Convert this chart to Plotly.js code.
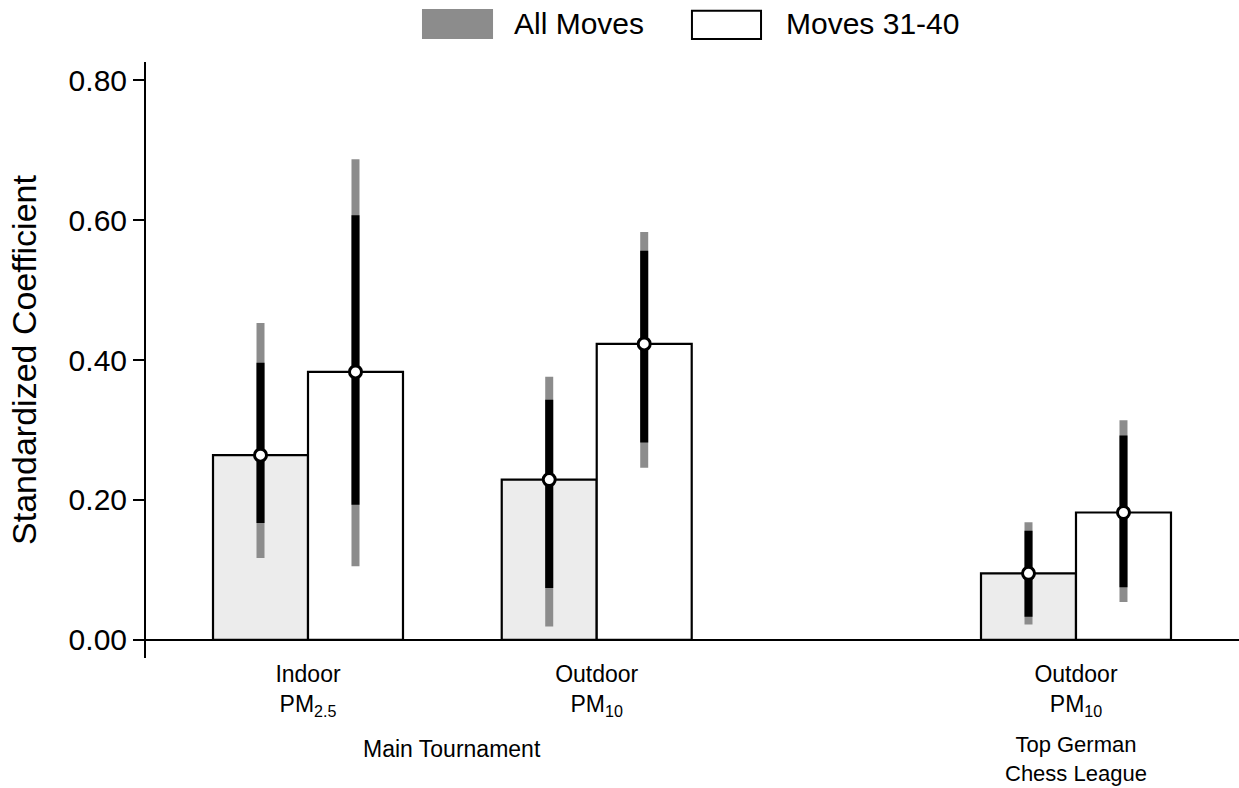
<!DOCTYPE html>
<html>
<head>
<meta charset="utf-8">
<script src="https://cdn.plot.ly/plotly-3.0.1.min.js"></script>
<style>
  html, body { margin: 0; padding: 0; background: #ffffff; }
  #chart { width: 1239px; height: 788px; }
</style>
</head>
<body>
<div id="chart"></div>
<script>
// ---- data ----
const groupPositions = [1, 2, 3.66];
const tickLabels = ["Indoor<br>PM<sub>2.5</sub>", "Outdoor<br>PM<sub>10</sub>", "Outdoor<br>PM<sub>10</sub>"];
const groupLabels = ["Main Tournament", "Top German<br>Chess League"];
const groupLabelPositions = [1.5, 3.66];
const seriesNames = ["All Moves", "Moves 31-40"];

const allEst   = [0.264, 0.229, 0.095];
const allLo95  = [0.117, 0.019, 0.022];
const allHi95  = [0.453, 0.376, 0.168];
const allLo90  = [0.167, 0.074, 0.033];
const allHi90  = [0.396, 0.343, 0.156];

const lateEst  = [0.383, 0.423, 0.182];
const lateLo95 = [0.105, 0.246, 0.054];
const lateHi95 = [0.687, 0.583, 0.314];
const lateLo90 = [0.193, 0.282, 0.075];
const lateHi90 = [0.607, 0.556, 0.292];

const yTickVals = [0, 0.2, 0.4, 0.6, 0.8];

// ---- style ----
const FONT = "Liberation Sans, Arial, Helvetica, sans-serif";
const BARGAP = 0.342;
const HALF = (1 - BARGAP) / 4;
const GRAY = "#8c8c8c";

const up = (hi, est) => hi.map((v, i) => v - est[i]);
const dn = (lo, est) => lo.map((v, i) => est[i] - v);
const shift = (d) => groupPositions.map(p => p + d);

const traces = [
  {
    type: "bar", name: seriesNames[0], x: groupPositions, y: allEst,
    marker: { color: "#ececec", line: { color: "#000", width: 2.2 } },
    error_y: { type: "data", symmetric: false, array: up(allHi95, allEst), arrayminus: dn(allLo95, allEst),
               color: GRAY, thickness: 8, width: 0 },
    showlegend: false, hoverinfo: "skip"
  },
  {
    type: "bar", name: seriesNames[1], x: groupPositions, y: lateEst,
    marker: { color: "#ffffff", line: { color: "#000", width: 2.2 } },
    error_y: { type: "data", symmetric: false, array: up(lateHi95, lateEst), arrayminus: dn(lateLo95, lateEst),
               color: GRAY, thickness: 8, width: 0 },
    showlegend: false, hoverinfo: "skip"
  },
  {
    type: "scatter", mode: "markers", name: seriesNames[0] + " 90%", x: shift(-HALF), y: allEst,
    marker: { size: 1, color: "rgba(0,0,0,0)" },
    error_y: { type: "data", symmetric: false, array: up(allHi90, allEst), arrayminus: dn(allLo90, allEst),
               color: "#000", thickness: 8, width: 0 },
    showlegend: false, hoverinfo: "skip"
  },
  {
    type: "scatter", mode: "markers", name: seriesNames[1] + " 90%", x: shift(HALF), y: lateEst,
    marker: { size: 1, color: "rgba(0,0,0,0)" },
    error_y: { type: "data", symmetric: false, array: up(lateHi90, lateEst), arrayminus: dn(lateLo90, lateEst),
               color: "#000", thickness: 8, width: 0 },
    showlegend: false, hoverinfo: "skip"
  },
  {
    type: "scatter", mode: "markers", name: seriesNames[0] + " estimate", x: shift(-HALF), y: allEst,
    marker: { size: 12, color: "#ffffff", line: { color: "#000", width: 3 } },
    showlegend: false
  },
  {
    type: "scatter", mode: "markers", name: seriesNames[1] + " estimate", x: shift(HALF), y: lateEst,
    marker: { size: 12, color: "#ffffff", line: { color: "#000", width: 3 } },
    showlegend: false
  }
];

const annotations = [
  { text: groupLabels[0], x: groupLabelPositions[0], xref: "x", y: -0.128, yref: "paper",
    xanchor: "center", yanchor: "top", showarrow: false, font: { family: FONT, size: 23, color: "#000" } },
  { text: groupLabels[1], x: groupLabelPositions[1], xref: "x", y: -0.12, yref: "paper",
    xanchor: "center", yanchor: "top", showarrow: false, font: { family: FONT, size: 22, color: "#000" } },
  { text: seriesNames[0], x: 0.3349, xref: "paper", y: 1.0638, yref: "paper",
    xanchor: "left", yanchor: "middle", showarrow: false, font: { family: FONT, size: 30, color: "#000" } },
  { text: seriesNames[1], x: 0.5837, xref: "paper", y: 1.0638, yref: "paper",
    xanchor: "left", yanchor: "middle", showarrow: false, font: { family: FONT, size: 30, color: "#000" } }
];

const shapes = [
  { type: "rect", xref: "paper", yref: "paper", x0: 0.2525, x1: 0.3175, y0: 1.0386, y1: 1.089,
    fillcolor: GRAY, line: { width: 0 } },
  { type: "rect", xref: "paper", yref: "paper", x0: 0.4995, x1: 0.5627, y0: 1.0386, y1: 1.086,
    fillcolor: "#ffffff", line: { color: "#000", width: 2 } }
];

const layout = {
  width: 1239, height: 788,
  margin: { l: 146, r: 0, t: 62, b: 130, pad: 0 },
  paper_bgcolor: "#ffffff", plot_bgcolor: "#ffffff",
  font: { family: FONT, color: "#000" },
  barmode: "group", bargap: BARGAP, bargroupgap: 0,
  showlegend: false,
  xaxis: {
    range: [0.4389, 4.2246], tickmode: "array", tickvals: groupPositions, ticktext: tickLabels,
    showgrid: false, zeroline: false, showline: false, ticks: "",
    tickfont: { family: FONT, size: 23, color: "#000" }, fixedrange: true
  },
  yaxis: {
    range: [-0.026, 0.826], tickmode: "array", tickvals: yTickVals, tickformat: ".2f",
    showgrid: false, zeroline: true, zerolinecolor: "#000", zerolinewidth: 2,
    showline: true, linecolor: "#000", linewidth: 2,
    ticks: "outside", ticklen: 11, tickwidth: 2, tickcolor: "#000",
    tickfont: { family: FONT, size: 30, color: "#000" },
    title: { text: "Standardized Coefficient", font: { family: FONT, size: 34, color: "#000" }, standoff: 22 },
    fixedrange: true
  },
  annotations: annotations,
  shapes: shapes
};

Plotly.newPlot("chart", traces, layout, { displayModeBar: false, staticPlot: true });
</script>
</body>
</html>
